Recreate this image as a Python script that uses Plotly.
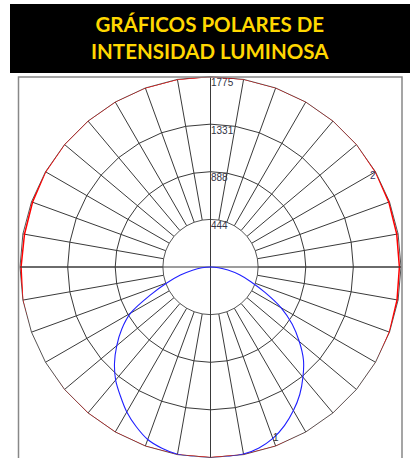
import plotly.graph_objects as go

# ---- data ----
title_lines = ["GRÁFICOS POLARES DE", "INTENSIDAD LUMINOSA"]
radial_ticks = [444, 888, 1331, 1775]
grid_angles = [str(a) for a in range(0, 360, 10)]          # categorical angular axis (10° steps)
# curve 2 (red): intensity per 10° (0 = nadir, counterclockwise)
red_values = [1778, 1778, 1780, 1785, 1786, 1786, 1784, 1775, 1765, 1760,
              1762, 1768, 1775, 1780, 1781, 1781, 1780, 1778, 1775, 1777,
              1778, 1779, 1779, 1778, 1775, 1765, 1760, 1765, 1778, 1788,
              1788, 1782, 1780, 1780, 1779, 1778]
# curve 1 (blue): 5° steps from nadir
blue_angles = [0, 5, 10, 15, 20, 25, 30, 35, 40, 45, 50, 55, 60, 65, 70, 75, 80, 85, 90]
blue_right = [1780, 1778, 1770, 1745, 1700, 1630, 1545, 1450, 1340, 1225,
              1080, 930, 760, 560, 400, 280, 165, 75, 0]
blue_left = [1780, 1780, 1772, 1748, 1710, 1640, 1560, 1465, 1375, 1265,
             1140, 1010, 860, 620, 430, 290, 170, 80, 0]
axis_angles = [0, 90, 180, 270]

# ---- figure ----
W, H = 410, 458
cx, cy, R = 210.5, 267.0, 190.5
dom_x = [(cx - R) / W, (cx + R) / W]
dom_y = [(H - cy - R) / H, (H - cy + R) / H]

fig = go.Figure()

red_text = ["2" if a == "120" else "" for a in grid_angles]
fig.add_trace(go.Scatterpolar(
    theta=grid_angles + [grid_angles[0]], r=red_values + [red_values[0]],
    mode="lines+text", text=red_text + [""], textposition="bottom left",
    textfont=dict(family="Liberation Sans, Arial", size=10, color="#333366"),
    line=dict(color="#FF0000", width=1.5), subplot="polar", showlegend=False,
    cliponaxis=False, hoverinfo="skip"))

# blue: left side (negative angles) through nadir to right side
b_theta = [-a for a in blue_angles[::-1]] + blue_angles[1:]
b_r = blue_left[::-1] + blue_right[1:]
b_text = [""] * len(b_theta)
b_text[b_theta.index(20)] = "1"
fig.add_trace(go.Scatterpolar(
    theta=b_theta, r=b_r, mode="lines+text", text=b_text, textposition="middle right",
    textfont=dict(family="Liberation Sans, Arial", size=10, color="#333333"),
    line=dict(color="#2020FF", width=1.1, shape="spline", smoothing=0.6),
    subplot="polar2", showlegend=False, cliponaxis=False, hoverinfo="skip"))

grid_col = "#3a3a3a"
fig.update_layout(
    width=W, height=H, margin=dict(l=0, r=0, t=0, b=0),
    paper_bgcolor="white", plot_bgcolor="white", template="none",
    polar=dict(
        domain=dict(x=dom_x, y=dom_y),
        bgcolor="white", hole=0.25, gridshape="linear",
        angularaxis=dict(type="category", categoryarray=grid_angles, rotation=-90,
                         direction="counterclockwise", showticklabels=False, ticks="",
                         showgrid=True, gridcolor=grid_col, gridwidth=1,
                         showline=True, linecolor="#555555", linewidth=1,
                         layer="below traces"),
        radialaxis=dict(range=[444, 1775], tickvals=radial_ticks,
                        ticktext=["<br>" + str(v) for v in radial_ticks], angle=90, tickangle=90,
                        side="clockwise", ticks="", showline=False,
                        showgrid=True, gridcolor=grid_col, gridwidth=1,
                        layer="below traces",
                        tickfont=dict(family="Liberation Sans, Arial", size=10, color="#333344")),
    ),
    polar2=dict(
        domain=dict(x=dom_x, y=dom_y),
        bgcolor="rgba(0,0,0,0)",
        angularaxis=dict(rotation=-90, direction="counterclockwise", tickvals=axis_angles,
                         showticklabels=False, ticks="", showgrid=True, gridcolor=grid_col,
                         gridwidth=1, showline=False, layer="below traces"),
        radialaxis=dict(range=[0, 1775], showticklabels=False, ticks="", showline=False,
                        showgrid=False),
    ),
    shapes=[
        dict(type="rect", xref="paper", yref="paper", x0=10 / W, x1=1.0,
             y0=(H - 73) / H, y1=(H - 4) / H, fillcolor="black", line=dict(width=0),
             layer="below"),
        dict(type="rect", xref="paper", yref="paper", x0=18.5 / W, x1=402 / W,
             y0=-0.02, y1=(H - 77) / H, line=dict(color="#888888", width=1.5),
             layer="above"),
    ],
    annotations=[
        dict(text="<b>" + "<br>".join(title_lines) + "</b>", xref="paper", yref="paper",
             x=210 / W, y=(H - 37) / H, xanchor="center", yanchor="middle",
             showarrow=False, align="center",
             font=dict(family="Lato, Open Sans", size=20.5, color="#FFD700")),
    ],
)

fig.write_html("out.html", post_script="document.body.style.margin='0';",
               config={"displayModeBar": False})
